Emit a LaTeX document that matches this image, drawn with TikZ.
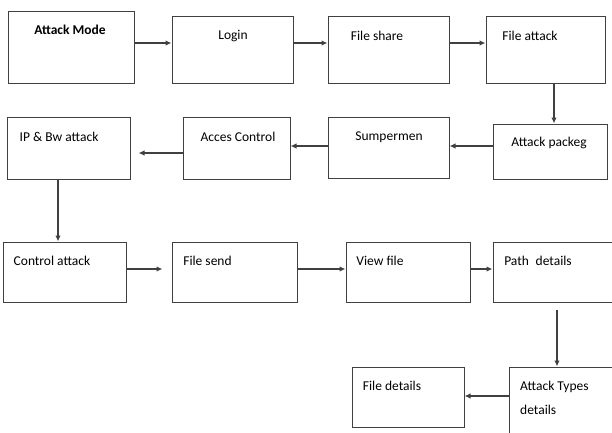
\documentclass[tikz,border=0pt]{standalone}
\usepackage{fontspec}
\setmainfont{Carlito}
\usepackage{tikz}
\usetikzlibrary{arrows.meta,positioning,calc}
\definecolor{flowline}{HTML}{404040}

\begin{document}
\begin{tikzpicture}[x=1pt,y=-1pt,
    box/.style={draw=flowline,line width=1pt,inner sep=0pt},
    lbl/.style={font=\fontsize{13.5}{16}\selectfont,inner sep=0pt},
    arr/.style={draw=flowline,line width=1.3pt,-{Latex[length=6pt,width=5.5pt]}}]
  \clip (0,0) rectangle (612,432);

  %% Boxes
  \node[box,minimum width=126pt,minimum height=72pt] (mode)    at (71,47)      {};
  \node[box,minimum width=121pt,minimum height=67pt] (login)   at (232.5,49.5) {};
  \node[box,minimum width=121pt,minimum height=67pt] (share)   at (388.5,49.5) {};
  \node[box,minimum width=119pt,minimum height=67pt] (fattack) at (545.5,49.5) {};

  \node[box,minimum width=114pt,minimum height=55pt] (packeg)  at (550,151.5)  {};
  \node[box,minimum width=121pt,minimum height=61pt] (sumper)  at (388.5,147.5){};
  \node[box,minimum width=107pt,minimum height=62pt] (acces)   at (236.5,148)  {};
  \node[box,minimum width=123pt,minimum height=62pt] (ipbw)    at (68.5,148)   {};

  \node[box,minimum width=123pt,minimum height=60pt] (ctrl)    at (64.5,272)   {};
  \node[box,minimum width=125pt,minimum height=60pt] (send)    at (234.5,272)  {};
  \node[box,minimum width=124pt,minimum height=60pt] (view)    at (408,272)    {};
  \node[box,minimum width=132pt,minimum height=60pt] (path)    at (559,272)    {};

  \node[box,minimum width=112pt,minimum height=60pt] (fdet)    at (408,397)    {};
  \node[box,minimum width=116pt,minimum height=83pt] (types)   at (567,408.5)  {};

  %% Texts
  \node[lbl,font=\fontsize{13.5}{16}\selectfont\bfseries] (mode-t) at (70,30) {Attack Mode};
  \node[lbl] (login-t)   at (233,36)  {Login};
  \node[lbl] (share-t)   at (377,36)  {File share};
  \node[lbl] (fattack-t) at (530,36)  {File attack};
  \node[lbl] (packeg-t)  at (549,143) {Attack packeg};
  \node[lbl] (sumper-t)  at (389,137) {Sumpermen};
  \node[lbl] (acces-t)   at (238,137) {Acces Control};
  \node[lbl] (ipbw-t)    at (59,137)  {IP \& Bw attack};
  \node[lbl] (ctrl-t)    at (52,261)  {Control attack};
  \node[lbl] (send-t)    at (207.5,261) {File send};
  \node[lbl] (view-t)    at (380,261) {View file};
  \node[lbl] (path-t)    at (538,261) {Path\enspace details};
  \node[lbl] (fdet-t)    at (392,386) {File details};
  \node[lbl,anchor=west,align=left,font=\fontsize{13.5}{24}\selectfont] (types-t)
    at (520,398) {Attack Types\\details};

  %% Connectors
  \draw[arr] ([yshift=4pt]mode.east)     -- ([yshift=4pt]mode.east -| login.west);
  \draw[arr] ([yshift=6.5pt]login.east)  -- ([yshift=6.5pt]login.east -| share.west);
  \draw[arr] ([yshift=6.5pt]share.east)  -- ([yshift=6.5pt]share.east -| fattack.west);
  \draw[arr] ([xshift=8.5pt]fattack.south) -- ([xshift=8.5pt]fattack.south |- packeg.north);
  \draw[arr] ([yshift=5.5pt]packeg.west) -- ([yshift=5.5pt]packeg.west -| sumper.east);
  \draw[arr] ([yshift=1.5pt]sumper.west) -- ([yshift=1.5pt]sumper.west -| acces.east);
  \draw[arr] ([yshift=-5pt]acces.west)   -- ([yshift=-5pt,xshift=8pt]acces.west -| ipbw.east);
  \draw[arr] ([xshift=-10.5pt]ipbw.south) -- ([xshift=-10.5pt]ipbw.south |- ctrl.north);
  \draw[arr] ([yshift=3pt]ctrl.east)     -- ([yshift=3pt,xshift=-9pt]ctrl.east -| send.west);
  \draw[arr] ([yshift=3pt]send.east)     -- ([yshift=3pt]send.east -| view.west);
  \draw[arr] ([yshift=3pt]view.east)     -- ([yshift=3pt]view.east -| path.west);
  \draw[arr] ([xshift=-2pt,yshift=-7pt]path.south) -- ([xshift=-2pt]path.south |- types.north);
  \draw[arr] ([yshift=12.5pt]types.west) -- ([yshift=12.5pt]types.west -| fdet.east);
\end{tikzpicture}
\end{document}
